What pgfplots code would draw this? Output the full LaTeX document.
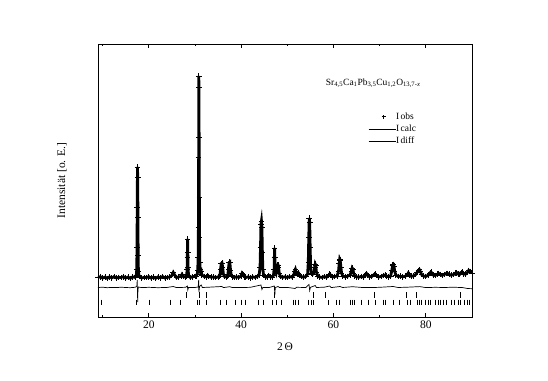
\documentclass[border=0pt]{standalone}
\usepackage{fontspec}
\setmainfont{Liberation Serif}
\usepackage{pgfplots}
\usepackage{pgfplotstable}
\pgfplotsset{compat=1.18}

\pgfplotstableread{
x obs calc
9.0 39.5 39.5
9.5 40.3 39.5
10.0 38.9 39.5
10.5 39.9 39.5
11.0 38.7 39.5
11.5 40.1 39.5
12.0 39.2 39.5
12.5 40.4 39.5
13.0 39.0 39.5
13.5 39.7 39.5
14.0 39.5 39.5
14.5 40.3 39.5
15.0 38.9 39.5
15.5 39.9 39.5
16.0 38.7 39.5
16.5 40.1 39.5
17.0 39.6 39.6
17.2 40.5 40.2
17.3 42 42
17.4 48 47
17.45 70 68
17.5 110 103
17.55 150 126
17.6 140 125
17.65 100 97
17.7 62 60
17.75 46 46
17.85 42 42
18.0 40.4 40
18.5 39.0 39.5
19.0 39.7 39.5
19.5 39.5 39.5
20.0 40.3 39.5
20.5 38.9 39.5
21.0 39.9 39.5
21.5 38.7 39.5
22.0 40.1 39.5
22.5 39.2 39.5
23.0 40.4 39.5
23.5 39.0 39.5
24.0 39.7 39.5
24.5 39.9 39.8
25.0 41.5 41.2
25.3 44.5 44
25.6 42 42
26.0 39.5 39.8
26.5 40.1 39.8
27.0 40.6 40.4
27.2 42.5 42
27.5 40.5 40.5
28.0 39.9 39.9
28.2 41 41
28.3 48 47
28.35 60 58
28.4 78 75
28.45 65 67
28.5 50 50
28.6 42 42
29.0 39.5 39.8
29.5 40.3 40
30.0 40.5 40.3
30.3 41 41
30.5 43 43
30.6 47 47
30.7 60 59
30.75 90 86
30.8 160 150
30.83 241 236
30.86 230 233
30.9 180 178
30.95 120 116
31.0 80 80
31.05 55 56
31.1 48 48
31.2 45 45
31.35 46 44
31.5 42 42
32.0 40.5 40.5
32.5 40.1 40.2
32.8 41.5 41.2
33.0 40.6 40.6
33.5 39.8 40
34.0 40 40
34.5 39.4 39.8
35.0 40.1 40
35.4 41 41
35.55 48 47
35.7 53.5 53
35.85 54 53.5
36.0 50 50
36.15 43 43
36.4 40.5 40.5
36.8 40 40
37.1 41 41
37.25 48 47.5
37.4 54.5 54
37.55 55 54.5
37.7 47 47
37.85 42 42
38.2 40.3 40.3
38.5 39.5 39.8
39.0 40.2 40
39.5 39.6 39.8
40.0 41 41
40.2 43.7 43.5
40.4 42.5 42.5
40.7 40.2 40.2
41.0 39.5 39.8
41.5 40.1 39.8
42.0 39.3 39.7
42.5 40.2 39.8
43.0 39.6 39.9
43.5 40.5 40.3
43.9 42 42
44.1 50 49
44.2 70 68
44.3 93 90
44.4 96 96
44.5 90 93
44.6 65 66
44.7 48 48
44.85 42 42
45.2 40.3 40.3
45.6 39.8 40
46.0 41.5 41.2
46.3 40.2 40.2
46.7 40 40
47.0 41.5 41.5
47.15 48 47
47.2 60 56
47.25 69 62
47.3 60 64
47.4 47 48
47.6 44 44
47.8 48 48
47.9 52 51.5
48.0 52 51.5
48.1 50 49.5
48.25 44 44
48.5 40.5 40.5
49.0 39.7 40
49.5 40.2 40
50.0 39.5 39.9
50.5 40.4 40.1
51.0 39.8 40.3
51.4 42 42
51.6 46 46
51.75 47.7 48.5
51.9 45 45
52.1 43 43
52.4 44 44
52.6 42 42
53.0 40.5 40.5
53.5 39.8 40
54.0 40.5 40.3
54.4 43 43
54.55 55 54
54.65 80 78
54.75 99 96
54.85 95 98
54.95 70 71
55.05 50 50
55.2 44 44
55.5 43 43
55.8 45 45
55.95 50 49
56.05 53 51.5
56.15 52 52
56.3 45 45
56.6 41 41
57.0 40 40.2
57.5 39.6 40
58.0 40.4 40.1
58.5 39.8 40.1
59.0 41.5 41.3
59.2 43 42
59.4 41.8 41.8
59.8 40 40.2
60.3 40.5 40.4
60.8 41 41
61.1 46 46
61.25 54 53.5
61.35 58 57
61.45 57 57
61.6 50 50
61.75 44 44
62.0 41 41
62.5 40.2 40.4
63.0 40.7 40.7
63.6 42 42
63.9 46 46
64.05 49 48.5
64.2 48 48
64.35 44 44
64.6 41 41
65.0 40.2 40.4
65.5 39.8 40.2
66.0 40.6 40.5
66.5 40 40.4
67.0 42.5 42.3
67.15 43.5 43.3
67.4 41.5 41.5
67.8 40.3 40.5
68.3 40.6 40.6
68.8 42.5 42.4
69.0 43 42.8
69.3 41.5 41.5
69.8 40 40.4
70.3 40.6 40.6
70.8 41.5 41.4
71.2 42 42
71.5 40.8 40.8
72.0 40.3 40.5
72.4 41 41
72.65 47 47
72.8 52 51.5
72.95 52.7 52.4
73.1 51 51
73.25 46 46
73.5 42 42
74.0 40.5 40.6
74.5 40.8 40.7
75.0 40.2 40.5
75.5 40.6 40.6
76.0 42.5 42.4
76.2 44 43.7
76.4 42 42
76.8 40.8 40.9
77.3 41 41
77.8 42.5 42.5
78.1 44.5 44.5
78.4 46.5 46.3
78.6 47.3 47
78.8 45.5 45.5
79.1 42.5 42.5
79.5 41 41
80.0 40.5 40.8
80.5 41.8 41.8
80.9 44 44
81.1 45 44.8
81.3 44 44
81.6 42 42
82.0 41.5 41.5
82.5 42.8 42.8
82.8 43.5 43.4
83.1 42.5 42.5
83.5 41.7 41.8
84.0 42.5 42.5
84.4 43.5 43.4
84.7 43.7 43.6
85.0 42.8 42.8
85.5 41.8 41.9
86.0 42.5 42.5
86.4 43.8 43.7
86.7 44.3 44.2
87.0 43 43
87.3 42.5 42.6
87.6 44.5 44.4
87.9 45 45
88.2 43 43
88.6 42.8 42.9
89.0 44.5 44.5
89.3 46.7 46.4
89.6 45.5 45.5
90.0 44 44
}\profile

\pgfplotstableread{
x d
9 29.5
10 29.8
11 29.3
12 29.6
13 29.4
14 29.8
15 29.5
16 29.3
17 29.7
17.4 30.5
17.5 37
17.55 24
17.6 15
17.65 27
17.75 30
18.5 29.4
20 29.7
22 29.3
24 29.6
25.3 30.5
26 29.4
28 29.7
28.35 31
28.45 27
28.6 29.6
30 29.5
30.7 30
30.8 37
30.85 25
30.9 27
31 30.5
31.35 32
31.6 29.5
33 29.8
35.8 30.5
36.2 29.4
37.5 30.3
38 29.6
40 29.4
42 29.7
44.3 32
44.5 27.5
44.7 29.6
46 29.4
47.2 31
47.3 22
47.4 29.5
48 30.5
48.3 29.5
50 29.6
51.7 28.5
52 29.7
54 29.5
54.7 32.5
54.85 26.5
55 29.6
56.05 31.5
56.3 29.5
58 29.8
59.2 31
59.5 29.4
61.4 30.5
62 29.5
64.1 30.3
66 29.6
68 29.4
70 29.7
72.9 30.5
74 29.5
76 29.8
78.7 30.4
80 29.4
82 29.7
84 29.5
86 29.8
88 29.4
89 28.5
90 28.3
}\diff

\begin{document}
\begin{tikzpicture}
\useasboundingbox (-98pt,-63pt) rectangle (450pt,317pt);
\begin{axis}[
  at={(0pt,0pt)}, anchor=south west,
  scale only axis, width=374pt, height=273pt,
  xmin=9, xmax=90, ymin=0, ymax=273,
  xtick={20,40,60,80}, minor xtick={10,30,50,70,90},
  ytick=\empty,
  tick align=inside,
  major tick length=4pt, minor tick length=2pt,
  axis line style={line width=0.8pt},
  every tick/.style={black, line width=0.8pt},
  /pgf/number format/assume math mode=true,
  tick label style={font=\fontsize{11.5}{13}\selectfont},
  xlabel={2\,Θ},
  xlabel style={at={(axis description cs:0.5,0)}, anchor=center, yshift=-30pt, font=\fontsize{11.5}{13}\selectfont},
  ylabel={Intensität [o. E.]},
  ylabel style={at={(axis description cs:0,0.5)}, anchor=center, yshift=36pt, font=\fontsize{11.5}{13}\selectfont},
  legend cell align=left,
  legend style={at={(rel axis cs:0,1)}, anchor=north west, xshift=270pt, yshift=-68pt,
    draw=none, fill=none, inner sep=0pt, row sep=3.4pt,
    font=\fontsize{9.5}{10}\selectfont,
    nodes={inner sep=0pt, text height=7pt, text depth=2pt},
    /tikz/every even column/.append style={column sep=3.3pt}},
]
\addplot[black, line width=2.8pt, mark=+, mark size=2.8pt,
  mark options={line width=0.8pt},
  legend image code/.code={\path[draw=none] (0pt,0pt) -- (27pt,0pt); \draw[line width=0.8pt] (15pt,-2pt) -- (15pt,2pt) (13pt,0pt) -- (17pt,0pt);}]
  table[x=x, y=obs] {\profile};
\addlegendentry{I\,obs}
\addplot[black, line width=0.5pt, no marks,
  legend image code/.code={\draw[line width=0.8pt] (0pt,0pt) -- (27pt,0pt);}]
  table[x=x, y=calc] {\profile};
\addlegendentry{I\,calc}
\addplot[black, line width=0.7pt, no marks,
  legend image code/.code={\draw[line width=0.8pt] (0pt,0pt) -- (27pt,0pt);}]
  table[x=x, y=d] {\diff};
\addlegendentry{I\,diff}
% upper row of reflection markers (second phase)
\addplot[black, only marks, mark=|, mark size=2.6pt, mark options={line width=0.8pt}, forget plot]
  coordinates {(28.1,22) (30.9,22) (32.5,22) (47.1,22) (55.7,22) (58.2,22) (68.8,22) (75.9,22) (78.0,22) (87.5,22)};
% lower row of reflection markers (main phase)
\addplot[black, only marks, mark=|, mark size=2.8pt, mark options={line width=0.8pt}, forget plot]
  coordinates {(9.84,14.5) (17.28,14.5) (20.15,14.5) (24.69,14.5) (26.78,14.5) (30.46,14.5) (30.96,14.5) (32.41,14.5)
  (35.50,14.5) (36.73,14.5) (38.68,14.5) (39.98,14.5) (40.91,14.5) (43.78,14.5) (44.80,14.5) (46.81,14.5) (47.68,14.5)
  (48.76,14.5) (51.29,14.5) (51.72,14.5) (52.37,14.5) (54.53,14.5) (55.11,14.5) (55.68,14.5) (58.92,14.5) (60.65,14.5)
  (61.23,14.5) (63.61,14.5) (64.11,14.5) (64.62,14.5) (66.14,14.5) (67.57,14.5) (69.02,14.5) (70.81,14.5) (71.33,14.5)
  (72.97,14.5) (74.2,14.5) (76.0,14.5) (76.73,14.5) (78.16,14.5) (78.53,14.5) (79.03,14.5) (79.98,14.5) (80.48,14.5)
  (81.06,14.5) (82.14,14.5) (82.64,14.5) (83.22,14.5) (83.78,14.5) (84.43,14.5) (85.51,14.5) (86.23,14.5) (86.96,14.5)
  (87.54,14.5) (88.26,14.5) (88.97,14.5) (89.34,14.5)};
\node[font=\fontsize{9.5}{11}\selectfont] at (axis cs:68.6,234) {Sr\textsubscript{4,5}Ca\textsubscript{1}Pb\textsubscript{3,5}Cu\textsubscript{1,2}O\textsubscript{13,7-\textit{x}}};
\end{axis}
\end{tikzpicture}
\end{document}
